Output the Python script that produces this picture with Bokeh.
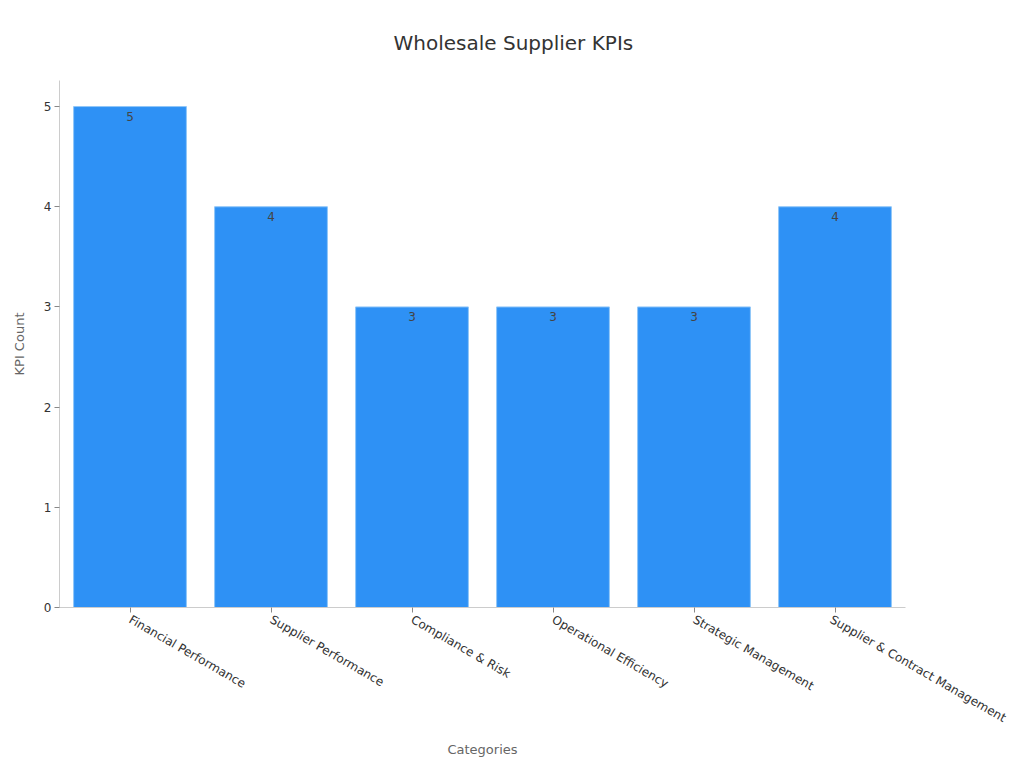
import math
from bokeh.plotting import figure
from bokeh.models import ColumnDataSource, Range1d, FactorRange, Title
from bokeh.core.properties import value
from bokeh.embed import file_html
from bokeh.resources import INLINE

categories = ["Financial Performance", "Supplier Performance", "Compliance & Risk",
              "Operational Efficiency", "Strategic Management", "Supplier & Contract Management"]
kpi_counts = [5, 4, 3, 3, 3, 4]
y_ticks = [0, 1, 2, 3, 4, 5]
title_text = "Wholesale Supplier KPIs"

FONT = "DejaVu Sans"

src = ColumnDataSource(dict(cat=categories, val=kpi_counts, lbl=[str(v) for v in kpi_counts]))

p = figure(width=1008, height=760, x_range=FactorRange(*categories, range_padding=0),
           y_range=Range1d(0, 5.26), output_backend="svg", toolbar_location=None,
           min_border_left=59, min_border_right=103, min_border_top=80, min_border_bottom=153)
p.title = Title(text=title_text, align="left", vertical_align="bottom",
                text_font=FONT, text_font_size="20px", text_font_style="normal",
                text_color="#333333", offset=334, standoff=52)
p.outline_line_color = None
p.xgrid.grid_line_color = None
p.ygrid.grid_line_color = None
p.background_fill_color = "white"
p.border_fill_color = "white"

p.vbar(x="cat", top="val", width=0.8, source=src, fill_color="#2E91F5",
       line_color="#90C6F8", line_width=1)
p.text(x="cat", y="val", text="lbl", source=src, text_align="center", text_baseline="top",
       y_offset=5, text_font=value(FONT), text_font_size="12px", text_color="#444444")

p.yaxis.ticker = y_ticks
p.yaxis.axis_label = "KPI Count"
p.xaxis.axis_label = "Categories"
for ax in (p.xaxis, p.yaxis):
    ax.axis_label_text_font = FONT
    ax.axis_label_text_font_size = "13px"
    ax.axis_label_text_font_style = "normal"
    ax.axis_label_text_color = "#666666"
    ax.major_label_text_font = FONT
    ax.major_label_text_font_size = "12px"
    ax.major_label_text_color = "#333333"
    ax.axis_line_color = "#CCCCCC"
    ax.major_tick_line_color = "#888888"
    ax.major_tick_out = 5
    ax.major_tick_in = 0
    ax.minor_tick_line_color = None
p.xaxis.major_label_orientation = -math.pi / 6
p.xaxis.major_label_standoff = 6
p.xaxis.axis_label_standoff = 8
p.yaxis.major_label_standoff = 3
p.yaxis.axis_label_standoff = 14

open("out.html", "w").write(file_html(p, INLINE))
